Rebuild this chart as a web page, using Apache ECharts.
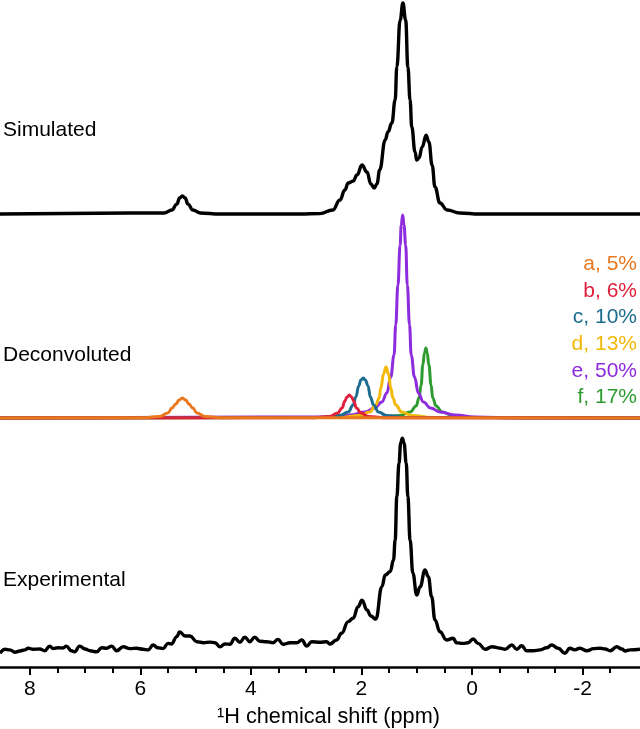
<!DOCTYPE html>
<html>
<head>
<meta charset="utf-8">
<script src="https://cdn.jsdelivr.net/npm/echarts@6/dist/echarts.min.js"></script>
<style>html,body{margin:0;padding:0;background:#fff}#c{width:640px;height:729px}</style>
</head>
<body>
<div id="c"></div>
<script>
// ---- data (x: ppm, y: intensity, peak of simulated = 100) ----
const xRange = [-3.04, 8.54];
const majorTicks = [8, 6, 4, 2, 0, -2];
const minorTicks = [7.5, 7, 6.5, 5.5, 5, 4.5, 3.5, 3, 2.5, 1.5, 1, 0.5, -0.5, -1, -1.5, -2.5];
const traceNames = ['Simulated', 'Deconvoluted', 'Experimental'];
const axisTitle = '¹H chemical shift (ppm)';

const simulated = [[8.54,0],[5.56,0.5],[5.43,1.9],[5.34,4.7],[5.29,7.6],[5.24,8.5],[5.19,7.6],[5.14,4.7],[5.05,1.9],[4.92,0.5],[4.56,0],[3.11,0],[2.75,0.2],[2.52,1.9],[2.39,6.6],[2.30,11.4],[2.24,14.7],[2.15,15.6],[2.08,18.5],[1.99,23.2],[1.90,19.9],[1.83,14.2],[1.77,12.3],[1.72,14.2],[1.67,20.9],[1.57,35.1],[1.52,38.9],[1.45,43.1],[1.39,54.0],[1.36,69.7],[1.30,91.9],[1.25,100],[1.20,91.9],[1.16,69.7],[1.12,54.0],[1.09,41.2],[1.03,29.4],[1.00,25.6],[0.96,26.5],[0.90,31.8],[0.83,37.4],[0.78,34.1],[0.72,23.0],[0.67,12.8],[0.58,5.2],[0.45,1.9],[0.22,0.5],[-0.14,0],[-3.04,0]];

const compLabels = ['a, 5%', 'b, 6%', 'c, 10%', 'd, 13%', 'e, 50%', 'f, 17%'];
const compA = [[8.54,0],[6.01,0.1],[5.65,0.7],[5.50,2.4],[5.43,4.7],[5.36,6.6],[5.30,8.5],[5.24,9.5],[5.18,8.5],[5.12,6.6],[5.05,4.7],[4.98,2.4],[4.83,0.7],[4.47,0.1],[-3.04,0]];
const compB = [[8.54,0],[2.93,0.1],[2.57,0.7],[2.43,2.4],[2.35,4.7],[2.30,8.1],[2.26,10.0],[2.22,10.9],[2.18,10.0],[2.14,8.1],[2.09,4.7],[2.01,2.4],[1.88,0.7],[1.52,0.1],[-3.04,0]];
const compC = [[8.54,0],[2.75,0.2],[2.39,1.2],[2.24,2.8],[2.15,6.2],[2.10,10.0],[2.05,15.2],[2.01,18.0],[1.967,19.0],[1.93,18.0],[1.88,15.2],[1.84,10.0],[1.78,6.2],[1.69,2.8],[1.55,1.2],[1.19,0.2],[-3.04,0]];
const compD = [[8.54,0],[2.39,0.2],[2.03,1.2],[1.85,2.8],[1.74,6.2],[1.68,9.5],[1.65,14.2],[1.60,20.9],[1.556,24.2],[1.51,20.9],[1.47,14.2],[1.43,9.5],[1.38,6.2],[1.27,2.8],[1.09,1.2],[0.72,0.2],[-3.04,0]];
const compE = [[8.54,0],[2.57,0.5],[2.21,1.4],[1.94,2.8],[1.76,4.7],[1.63,7.6],[1.54,11.9],[1.47,19.4],[1.41,29.9],[1.38,44.1],[1.34,63.0],[1.30,82.0],[1.28,91.5],[1.254,96.2],[1.23,91.5],[1.20,82.0],[1.17,63.0],[1.13,44.1],[1.10,29.9],[1.04,19.4],[0.97,11.9],[0.88,7.6],[0.75,4.7],[0.57,2.8],[0.30,1.4],[-0.05,0.5],[-0.87,0],[-3.04,0]];
const compF = [[8.54,0],[1.67,0.2],[1.30,1.2],[1.12,2.8],[1.01,5.7],[0.96,9.5],[0.92,15.6],[0.89,25.1],[0.86,30.8],[0.833,33.2],[0.81,30.8],[0.78,25.1],[0.74,15.6],[0.71,9.5],[0.65,5.7],[0.54,2.8],[0.36,1.2],[0.0,0.2],[-3.04,0]];

const experimental = [[8.54,-2.5],[8.45,-0.6],[8.36,-0.9],[8.27,-2.0],[8.18,-1.4],[8.09,-0.9],[8.03,-0.1],[7.94,-0.6],[7.82,-0.5],[7.73,-1.3],[7.64,0.9],[7.58,-0.3],[7.49,0.1],[7.40,0],[7.34,0.9],[7.25,-1.3],[7.19,-1.8],[7.10,0.9],[7.00,-0.5],[6.91,-1.3],[6.79,-1.8],[6.70,0.1],[6.61,-0.1],[6.52,0.9],[6.43,-1.3],[6.31,0.6],[6.19,-0.3],[6.07,-0.1],[5.95,-0.6],[5.86,-0.9],[5.77,1.4],[5.68,0.1],[5.59,-0.3],[5.50,2.2],[5.44,1.9],[5.34,5.4],[5.29,7.6],[5.19,5.7],[5.10,5.7],[4.98,3.0],[4.86,2.5],[4.74,2.8],[4.65,2.5],[4.56,0.6],[4.47,1.9],[4.38,1.8],[4.29,4.6],[4.20,2.7],[4.11,5.1],[4.02,3.0],[3.93,5.1],[3.84,3.2],[3.72,3.0],[3.60,2.5],[3.51,4.1],[3.42,1.8],[3.29,2.5],[3.17,2.5],[3.08,3.8],[2.99,0.9],[2.90,3.0],[2.75,2.7],[2.63,3.0],[2.57,1.9],[2.45,3.8],[2.36,7.0],[2.24,12.5],[2.15,14.1],[2.06,19.6],[1.99,22.7],[1.90,18.0],[1.83,15.2],[1.74,13.7],[1.63,29.1],[1.57,34.6],[1.48,36.2],[1.42,41.7],[1.39,51.2],[1.36,71.7],[1.32,87.7],[1.29,97.2],[1.26,99.4],[1.23,97.2],[1.19,87.7],[1.16,71.7],[1.12,51.2],[1.07,35.5],[1.00,25.1],[0.94,28.9],[0.85,37.0],[0.79,33.8],[0.73,24.3],[0.67,13.3],[0.58,7.7],[0.46,3.8],[0.34,4.6],[0.28,2.5],[0.16,2.2],[0.07,2.5],[-0.02,4.3],[-0.11,2.2],[-0.24,-0.6],[-0.36,0.6],[-0.51,-0.1],[-0.60,-0.6],[-0.72,1.4],[-0.81,-0.6],[-0.90,1.1],[-0.99,-1.3],[-1.11,-1.3],[-1.23,-0.9],[-1.35,0.1],[-1.44,1.4],[-1.56,-0.1],[-1.68,-2.5],[-1.77,-0.1],[-1.86,-0.9],[-1.95,-0.1],[-2.08,-1.3],[-2.20,-0.3],[-2.32,-0.1],[-2.41,-0.5],[-2.50,-1.3],[-2.62,0.6],[-2.71,-0.5],[-2.77,-1.4],[-2.86,-0.9],[-3.04,-0.6]];

// ---- styling ----
const FONT = 'Liberation Sans, Arial, sans-serif';
const compColors = ['#E8771E', '#E0203C', '#1B6C8E', '#F2B807', '#8E2BDC', '#2E9B30'];
const comps = [compA, compB, compC, compD, compE, compF];

const chart = echarts.init(document.getElementById('c'), null, {renderer: 'canvas'});

function xAx(gi, show) {
  return {gridIndex: gi, type: 'value', min: xRange[0], max: xRange[1], inverse: true, show: show,
    splitLine: {show: false}};
}
const xAxes = [xAx(0, false), xAx(1, false),
  Object.assign(xAx(2, true), {
    position: 'bottom',
    axisLine: {show: true, onZero: false, lineStyle: {color: '#000', width: 2.5}},
    axisTick: {show: true, customValues: majorTicks, length: 8, lineStyle: {color: '#000', width: 2}},
    axisLabel: {show: true, customValues: majorTicks, margin: 12, color: '#000', fontSize: 21, fontFamily: FONT}
  }),
  Object.assign(xAx(2, true), {
    position: 'bottom',
    axisLine: {show: false, onZero: false},
    axisTick: {show: true, customValues: minorTicks, length: 6, lineStyle: {color: '#000', width: 2}},
    axisLabel: {show: false}
  })
];

const series = [];
series.push({type: 'line', name: traceNames[0], xAxisIndex: 0, yAxisIndex: 0, data: simulated,
  showSymbol: false, smooth: 0.45, smoothMonotone: 'x', clip: false,
  lineStyle: {color: '#000', width: 3.4}});
for (let i = comps.length - 1; i >= 0; i--) {
  series.push({type: 'line', name: compLabels[i], xAxisIndex: 1, yAxisIndex: 1, data: comps[i],
    showSymbol: false, smooth: 0.45, smoothMonotone: 'x', clip: false,
    lineStyle: {color: compColors[i], width: 3}});
}
series.push({type: 'line', name: traceNames[2], xAxisIndex: 2, yAxisIndex: 2, data: experimental,
  showSymbol: false, smooth: 0.45, smoothMonotone: 'x', clip: false,
  lineStyle: {color: '#000', width: 3.4}});

const graphics = [];
const nameY = [132, 357, 582];
traceNames.forEach((t, i) => graphics.push({type: 'text', left: 3, top: nameY[i] - 12,
  style: {text: t, fontSize: 21, fontFamily: FONT, fill: '#000'}}));
compLabels.forEach((t, i) => graphics.push({type: 'text', right: 3, top: 266 + 26.6 * i - 12,
  style: {text: t, fontSize: 21, fontFamily: FONT, fill: compColors[i], textAlign: 'right'}}));
graphics.push({type: 'text', left: 217, top: 706,
  style: {text: axisTitle, fontSize: 21.7, fontFamily: FONT, fill: '#000'}});

chart.setOption({
  animation: false,
  backgroundColor: '#fff',
  grid: [
    {left: 0, right: 0, top: 3, height: 211},
    {left: 0, right: 0, top: 207, height: 211},
    {left: 0, right: 0, top: 437, bottom: 62}
  ],
  xAxis: xAxes,
  yAxis: [
    {gridIndex: 0, type: 'value', min: 0, max: 100, show: false, splitLine: {show: false}},
    {gridIndex: 1, type: 'value', min: 0, max: 100, show: false, splitLine: {show: false}},
    {gridIndex: 2, type: 'value', min: -9, max: 100, show: false, splitLine: {show: false}}
  ],
  series: series,
  graphic: graphics
});
</script>
</body>
</html>
